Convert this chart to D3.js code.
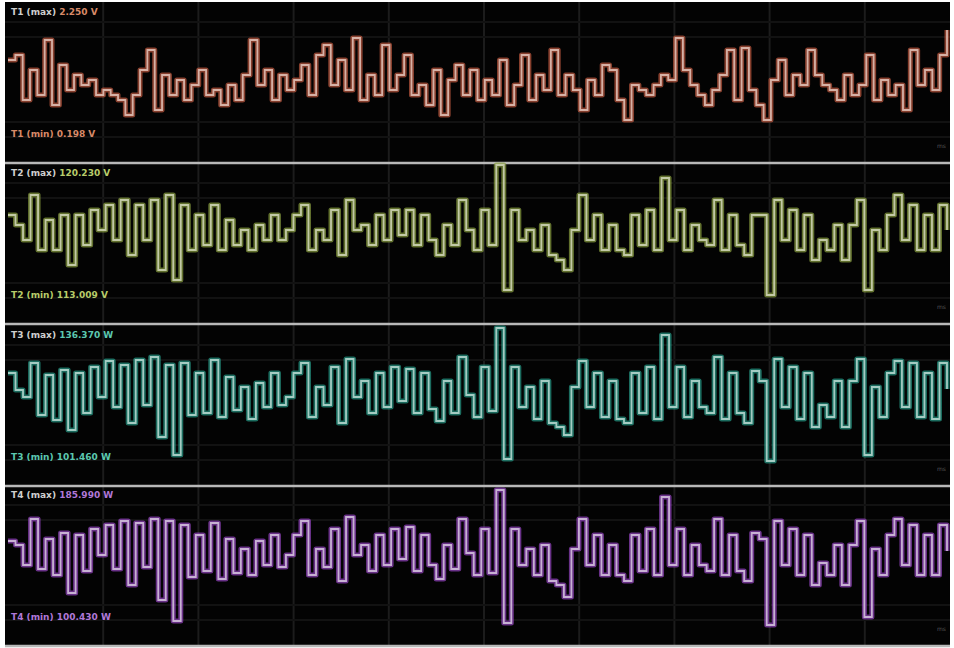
<!DOCTYPE html>
<html><head><meta charset="utf-8">
<script src="https://cdn.jsdelivr.net/npm/d3@7"></script>
<style>html,body{margin:0;padding:0;background:#fff;}svg{display:block;}</style>
</head><body><svg id="c" width="954" height="648"></svg>
<script>
const names = ["T1", "T2", "T3", "T4"];
const maxLabels = ["T1 (max) 2.250 V", "T2 (max) 120.230 V", "T3 (max) 136.370 W", "T4 (max) 185.990 W"];
const minLabels = ["T1 (min) 0.198 V", "T2 (min) 113.009 V", "T3 (min) 101.460 W", "T4 (min) 100.430 W"];
const colorsDark = ["#c05a40", "#8aa040", "#279a88", "#9646c2"];
const colorsLight = ["#e4c6bc", "#d4d8bc", "#bcdcd4", "#d8c8e0"];
const labelColors = ["#d88a68", "#b8cc6a", "#5cc8b0", "#b078d8"];

const series1 = [102,107,62,92,67,122,57,97,72,87,77,82,67,72,67,62,47,67,92,112,52,87,67,82,62,77,92,67,72,57,77,62,87,122,77,92,62,87,72,82,97,67,107,117,77,102,72,124,62,87,67,117,72,87,107,67,77,57,92,47,82,97,67,92,62,82,67,102,57,77,107,62,87,72,112,67,87,72,52,82,67,97,92,62,42,77,72,67,77,87,82,124,92,77,67,57,72,87,112,62,114,72,57,42,82,102,67,87,77,112,87,77,72,62,87,67,77,107,62,82,67,77,52,112,77,92,72,107,132];
const series2 = [108,98,83,128,73,103,73,108,58,108,78,113,93,118,83,123,68,118,83,123,53,128,43,118,73,108,78,118,73,103,78,93,73,98,83,108,83,93,108,118,73,93,83,113,68,123,93,98,78,108,83,113,88,113,78,108,83,68,98,78,123,93,73,113,78,158,33,113,83,93,73,98,68,63,53,93,128,83,108,73,98,73,68,108,78,113,73,145,83,113,73,98,83,78,123,73,108,78,68,108,108,28,123,83,113,73,108,63,83,73,98,63,98,123,33,93,73,108,128,83,118,73,108,73,118,93];
const series3 = [112,95,88,122,70,110,65,115,55,112,72,118,88,124,78,120,62,125,80,128,48,120,30,122,70,112,72,125,68,108,75,98,66,102,78,112,80,88,112,122,68,98,80,118,62,126,88,104,72,112,78,118,84,116,72,112,76,64,104,72,128,90,68,118,74,157,26,118,78,98,66,104,62,58,50,98,124,78,112,68,104,66,62,112,72,118,66,150,78,118,68,104,78,72,128,66,112,72,62,114,104,24,126,78,118,66,112,58,80,68,104,58,104,126,30,98,68,112,124,78,122,68,112,66,122,96];
const series4 = [104,100,80,126,76,106,70,112,52,110,74,116,90,120,76,124,60,122,78,126,45,124,24,120,68,110,74,122,66,106,72,96,70,104,80,110,78,90,110,124,70,96,78,116,64,128,90,100,74,110,80,116,86,118,74,110,80,66,100,76,126,92,70,116,72,155,22,116,80,96,70,100,64,60,48,96,126,80,110,70,100,70,64,110,74,116,70,148,80,116,70,100,80,74,126,70,110,74,64,112,106,20,124,80,116,70,110,60,82,70,100,60,100,124,28,96,70,110,126,80,120,70,110,70,120,94];
const allSeries = [series1, series2, series3, series4];
const panelBottoms = [162, 323, 485, 645];
const panelHeight = 160;
const gridTicks = [1,2,3,4,5,6,7,8,9];

const svg = d3.select("#c");
const frameLeft = 5, frameRight = 950, frameTop = 2, frameBottom = 646;
svg.append("rect").attr("x", frameLeft).attr("y", frameTop).attr("width", frameRight-frameLeft).attr("height", frameBottom-frameTop).attr("fill", "#030303");

const gx = d3.scaleLinear().domain([0,10]).range([8, 960]);
svg.append("g").selectAll("line").data(gridTicks).join("line")
  .attr("x1", d => gx(d)).attr("x2", d => gx(d))
  .attr("y1", frameTop).attr("y2", frameBottom)
  .attr("stroke", "#1c1c1c").attr("stroke-width", 2);

allSeries.forEach((data, i) => {
  const b = panelBottoms[i];
  const y = d3.scaleLinear().domain([0, panelHeight]).range([b, b - panelHeight]);
  const x = d3.scaleLinear().domain([0, data.length - 1]).range([8, 947]);
  const g = svg.append("g");
  g.selectAll("line.h").data([25, 40, 125, 140]).join("line").attr("class","h")
    .attr("x1", frameLeft).attr("x2", frameRight).attr("y1", d => y(d)).attr("y2", d => y(d))
    .attr("stroke", "#121212").attr("stroke-width", 2);
  const line = d3.line().x((d, k) => x(k)).y(d => y(d)).curve(d3.curveStepAfter);
  g.append("path").datum(data).attr("d", line).attr("fill", "none")
    .attr("stroke", colorsDark[i]).attr("stroke-width", 5).attr("stroke-opacity", 0.7).attr("stroke-linejoin","round");
  g.append("path").datum(data).attr("d", line).attr("fill", "none")
    .attr("stroke", colorsLight[i]).attr("stroke-width", 1.8).attr("stroke-opacity", 0.85);
  const t1 = g.append("text").attr("x", 11).attr("y", b - panelHeight + 13)
    .attr("font-family", "DejaVu Sans, sans-serif").attr("font-size", 9).attr("font-weight", "bold");
  t1.append("tspan").attr("fill", "#cfcfcf").text(maxLabels[i].split(") ")[0] + ")");
  t1.append("tspan").attr("fill", labelColors[i]).text(" " + maxLabels[i].split(") ")[1]);
  const t2 = g.append("text").attr("x", 11).attr("y", b - 25)
    .attr("font-family", "DejaVu Sans, sans-serif").attr("font-size", 9).attr("font-weight", "bold");
  t2.append("tspan").attr("fill", labelColors[i]).text(minLabels[i]);
  g.append("text").attr("x", 946).attr("y", b - 14).attr("text-anchor", "end")
    .attr("font-family", "DejaVu Sans, sans-serif").attr("font-size", 6).attr("fill", "#555").text("ms");
  g.append("line").attr("x1", frameLeft).attr("x2", frameRight).attr("y1", b + 1).attr("y2", b + 1)
    .attr("stroke", "#b8b8b8").attr("stroke-width", 2.5);
});
</script></body></html>
